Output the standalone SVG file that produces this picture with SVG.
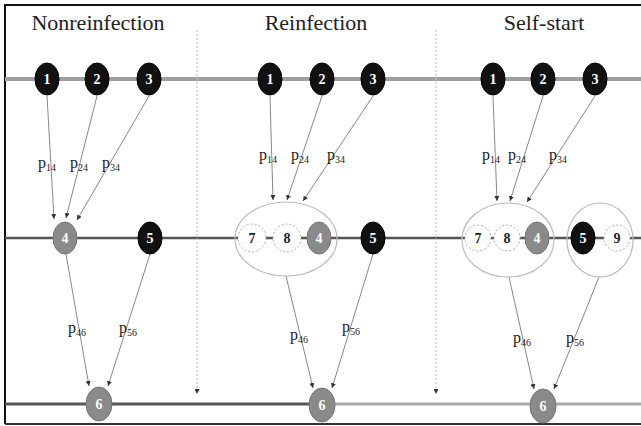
<svg xmlns="http://www.w3.org/2000/svg" width="641" height="426" viewBox="0 0 641 426">
<defs>
<marker id="ah" viewBox="0 0 6 6" refX="6" refY="3" markerWidth="5" markerHeight="5" orient="auto"><path d="M0,0 L6,3 L0,6z" fill="#333"/></marker>
<style>
.title{font-family:"Liberation Serif",serif;font-size:22px;fill:#222;text-anchor:middle}
.lbl{font-family:"Liberation Serif",serif;font-size:16px;fill:#222;text-anchor:middle}
.sub{font-size:10px}
.num{font-family:"Liberation Serif",serif;font-size:14px;font-weight:bold;text-anchor:middle;dominant-baseline:central}
.blk{fill:#111;stroke:#000;stroke-width:1}
.gry{fill:#8a8a8a;stroke:#777;stroke-width:1}
.wht{fill:#fff;stroke:#aaa;stroke-width:1;stroke-dasharray:2 2}
.grp{fill:none;stroke:#bbb;stroke-width:1.2}
.w{fill:#fff}
.k{fill:#222}
.edge{stroke:#888;stroke-width:1;fill:none;marker-end:url(#ah)}
.sep{stroke:#bbb;stroke-width:1;stroke-dasharray:2 2;marker-end:url(#ah)}
</style>
</defs>
<rect width="641" height="426" fill="#fff"/>
<path d="M5,424 L5,5 L641,5" fill="none" stroke="#111" stroke-width="2"/>
<line x1="5" y1="424" x2="641" y2="424" stroke="#333" stroke-width="2"/>
<text class="title" x="98" y="30">Nonreinfection</text>
<text class="title" x="316" y="30">Reinfection</text>
<text class="title" x="544" y="30">Self-start</text>
<line x1="5" y1="79" x2="641" y2="79" stroke="#a0a0a0" stroke-width="4"/>
<line x1="5" y1="238" x2="641" y2="238" stroke="#555" stroke-width="2.5"/>
<line x1="5" y1="404" x2="322" y2="404" stroke="#555" stroke-width="3"/>
<line x1="322" y1="404" x2="641" y2="404" stroke="#aaa" stroke-width="3"/>
<g id="connectors">
<line class="sep" x1="197" y1="30" x2="197" y2="394"/>
<line class="sep" x1="436" y1="30" x2="436" y2="394"/>
<line class="edge" x1="47" y1="96" x2="54" y2="219"/>
<line class="edge" x1="97" y1="96" x2="66" y2="218"/>
<line class="edge" x1="149" y1="96" x2="77" y2="220"/>
<line class="edge" x1="66" y1="254" x2="89" y2="386"/>
<line class="edge" x1="150" y1="254" x2="108" y2="386"/>
<line class="edge" x1="270" y1="96" x2="273" y2="200"/>
<line class="edge" x1="322" y1="96" x2="287" y2="200"/>
<line class="edge" x1="373" y1="96" x2="303" y2="201"/>
<line class="edge" x1="286" y1="276" x2="313" y2="388"/>
<line class="edge" x1="373" y1="254" x2="332" y2="388"/>
<line class="edge" x1="493" y1="96" x2="497" y2="201"/>
<line class="edge" x1="543" y1="96" x2="510" y2="201"/>
<line class="edge" x1="595" y1="96" x2="527" y2="202"/>
<line class="edge" x1="509" y1="277" x2="534" y2="389"/>
<line class="edge" x1="599" y1="277" x2="554" y2="389"/>
</g>
<g id="labels">
<text class="lbl" x="47" y="168">p<tspan class="sub" dy="3">14</tspan></text>
<text class="lbl" x="79" y="168">p<tspan class="sub" dy="3">24</tspan></text>
<text class="lbl" x="111" y="168">p<tspan class="sub" dy="3">34</tspan></text>
<text class="lbl" x="77" y="333">p<tspan class="sub" dy="3">46</tspan></text>
<text class="lbl" x="128" y="333">p<tspan class="sub" dy="3">56</tspan></text>
<text class="lbl" x="268" y="160">p<tspan class="sub" dy="3">14</tspan></text>
<text class="lbl" x="300" y="160">p<tspan class="sub" dy="3">24</tspan></text>
<text class="lbl" x="336" y="160">p<tspan class="sub" dy="3">34</tspan></text>
<text class="lbl" x="299" y="340">p<tspan class="sub" dy="3">46</tspan></text>
<text class="lbl" x="351" y="332">p<tspan class="sub" dy="3">56</tspan></text>
<text class="lbl" x="491" y="160">p<tspan class="sub" dy="3">14</tspan></text>
<text class="lbl" x="517" y="160">p<tspan class="sub" dy="3">24</tspan></text>
<text class="lbl" x="558" y="160">p<tspan class="sub" dy="3">34</tspan></text>
<text class="lbl" x="522" y="343">p<tspan class="sub" dy="3">46</tspan></text>
<text class="lbl" x="575" y="343">p<tspan class="sub" dy="3">56</tspan></text>
</g>
<g id="n1-a"><ellipse class="blk" cx="47" cy="79" rx="12" ry="16"/><text class="num w" x="47" y="79">1</text></g>
<g id="n2-a"><ellipse class="blk" cx="97" cy="79" rx="12" ry="16"/><text class="num w" x="97" y="79">2</text></g>
<g id="n3-a"><ellipse class="blk" cx="149" cy="79" rx="12" ry="16"/><text class="num w" x="149" y="79">3</text></g>
<g id="n4-a"><ellipse class="gry" cx="65" cy="238" rx="12" ry="16"/><text class="num w" x="65" y="238">4</text></g>
<g id="n5-a"><ellipse class="blk" cx="150" cy="238" rx="12" ry="16"/><text class="num w" x="150" y="238">5</text></g>
<g id="n6-a"><ellipse class="gry" cx="99" cy="404" rx="13" ry="17"/><text class="num w" x="99" y="404">6</text></g>
<g id="n1-b"><ellipse class="blk" cx="270" cy="79" rx="12" ry="16"/><text class="num w" x="270" y="79">1</text></g>
<g id="n2-b"><ellipse class="blk" cx="322" cy="79" rx="12" ry="16"/><text class="num w" x="322" y="79">2</text></g>
<g id="n3-b"><ellipse class="blk" cx="373" cy="79" rx="12" ry="16"/><text class="num w" x="373" y="79">3</text></g>
<g id="grp-b"><ellipse class="grp" cx="286" cy="239" rx="51" ry="37"/></g>
<g id="n7-b"><circle class="wht" cx="252" cy="238" r="14"/><text class="num k" x="252" y="238">7</text></g>
<g id="n8-b"><circle class="wht" cx="287" cy="238" r="14"/><text class="num k" x="287" y="238">8</text></g>
<g id="n4-b"><ellipse class="gry" cx="319" cy="238" rx="12" ry="16"/><text class="num w" x="319" y="238">4</text></g>
<g id="n5-b"><ellipse class="blk" cx="373" cy="238" rx="12" ry="16"/><text class="num w" x="373" y="238">5</text></g>
<g id="n6-b"><ellipse class="gry" cx="322" cy="405" rx="13" ry="17"/><text class="num w" x="322" y="405">6</text></g>
<g id="n1-c"><ellipse class="blk" cx="493" cy="79" rx="12" ry="16"/><text class="num w" x="493" y="79">1</text></g>
<g id="n2-c"><ellipse class="blk" cx="543" cy="79" rx="12" ry="16"/><text class="num w" x="543" y="79">2</text></g>
<g id="n3-c"><ellipse class="blk" cx="595" cy="79" rx="12" ry="16"/><text class="num w" x="595" y="79">3</text></g>
<g id="grp-c1"><ellipse class="grp" cx="508" cy="240" rx="46" ry="37"/></g>
<g id="grp-c2"><ellipse class="grp" cx="600" cy="240" rx="33" ry="37"/></g>
<g id="n7-c"><circle class="wht" cx="478" cy="238" r="13"/><text class="num k" x="478" y="238">7</text></g>
<g id="n8-c"><circle class="wht" cx="507" cy="238" r="13"/><text class="num k" x="507" y="238">8</text></g>
<g id="n4-c"><ellipse class="gry" cx="537" cy="238" rx="12" ry="16"/><text class="num w" x="537" y="238">4</text></g>
<g id="n5-c"><ellipse class="blk" cx="583" cy="238" rx="12" ry="16"/><text class="num w" x="583" y="238">5</text></g>
<g id="n9-c"><circle class="wht" cx="617" cy="238" r="13"/><text class="num k" x="617" y="238">9</text></g>
<g id="n6-c"><ellipse class="gry" cx="543" cy="406" rx="13" ry="17"/><text class="num w" x="543" y="406">6</text></g>
</svg>
